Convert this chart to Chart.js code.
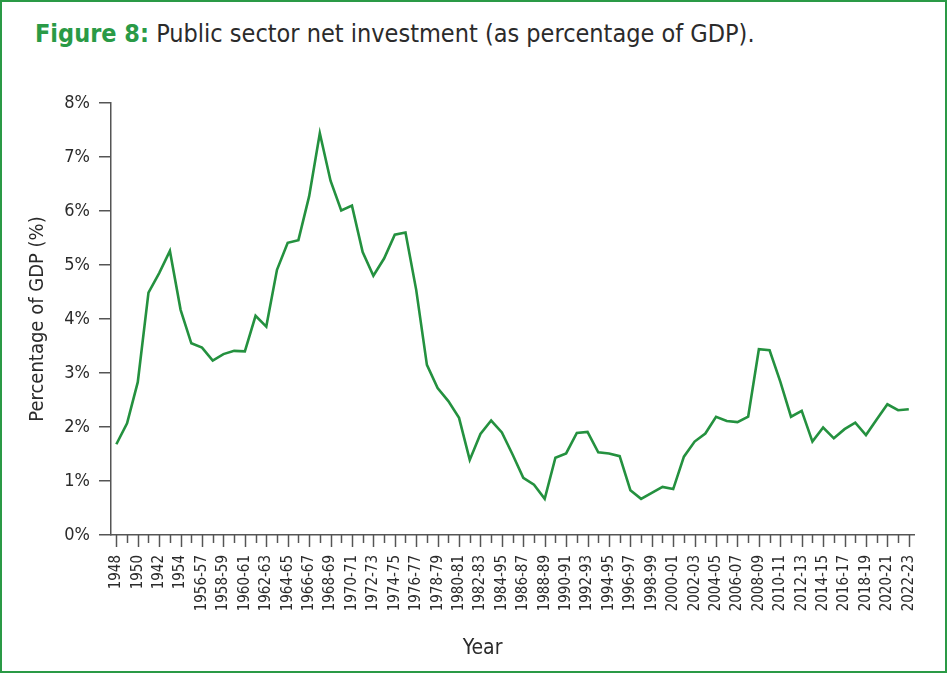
<!DOCTYPE html>
<html>
<head>
<meta charset="utf-8">
<script src="https://cdn.jsdelivr.net/npm/chart.js@4/dist/chart.umd.min.js"></script>
<style>
  html, body { margin: 0; padding: 0; background: #fff; }
  body { width: 947px; height: 673px; position: relative; overflow: hidden; }
  .frame {
    position: absolute; left: 0; top: 0; width: 943px; height: 669px;
    border: 2px solid #2a9a46;
    box-sizing: content-box;
  }
  .title {
    position: absolute; left: 35px; top: 19px;
    font-family: "DejaVu Sans Condensed", "Liberation Sans Narrow", sans-serif;
    font-size: 25px; line-height: 30px; color: #2b2b2b; white-space: nowrap;
  }
  .title b { color: #2a9a46; }
  #wrap { position: absolute; left: 0; top: 0; width: 947px; height: 673px; }
</style>
</head>
<body>
<div class="frame"></div>
<div class="title"><b>Figure 8:</b> Public sector net investment (as percentage of GDP).</div>
<div id="wrap"><canvas id="chart"></canvas></div>
<script>
// years on the axis (one point per year)
const years = [
  "1948", "1949", "1950", "1951", "1952", "1953", "1954", "1955",
  "1956-57", "1957-58", "1958-59", "1959-60", "1960-61", "1961-62", "1962-63", "1963-64",
  "1964-65", "1965-66", "1966-67", "1967-68", "1968-69", "1969-70", "1970-71", "1971-72",
  "1972-73", "1973-74", "1974-75", "1975-76", "1976-77", "1977-78", "1978-79", "1979-80",
  "1980-81", "1981-82", "1982-83", "1983-84", "1984-85", "1985-86", "1986-87", "1987-88",
  "1988-89", "1989-90", "1990-91", "1991-92", "1992-93", "1993-94", "1994-95", "1995-96",
  "1996-97", "1997-98", "1998-99", "1999-00", "2000-01", "2001-02", "2002-03", "2003-04",
  "2004-05", "2005-06", "2006-07", "2007-08", "2008-09", "2009-10", "2010-11", "2011-12",
  "2012-13", "2013-14", "2014-15", "2015-16", "2016-17", "2017-18", "2018-19", "2019-20",
  "2020-21", "2021-22", "2022-23"
];

// labels printed under every second tick (as they appear on the figure)
const tickLabels = [
  "1948", "1950", "1942", "1954", "1956-57", "1958-59", "1960-61", "1962-63",
  "1964-65", "1966-67", "1968-69", "1970-71", "1972-73", "1974-75", "1976-77", "1978-79",
  "1980-81", "1982-83", "1984-95", "1986-87", "1988-89", "1990-91", "1992-93", "1994-95",
  "1996-97", "1998-99", "2000-01", "2002-03", "2004-05", "2006-07", "2008-09", "2010-11",
  "2012-13", "2014-15", "2016-17", "2018-19", "2020-21", "2022-23"
];

// public sector net investment, % of GDP
const netInvestment = [
  1.68, 2.07, 2.83, 4.49, 4.85, 5.26, 4.17, 3.55, 3.47, 3.23,
  3.35, 3.41, 3.40, 4.06, 3.86, 4.91, 5.41, 5.46, 6.27, 7.44,
  6.56, 6.01, 6.10, 5.24, 4.80, 5.12, 5.56, 5.60, 4.54, 3.15,
  2.72, 2.48, 2.17, 1.39, 1.87, 2.12, 1.90, 1.49, 1.06, 0.93,
  0.67, 1.43, 1.51, 1.89, 1.91, 1.53, 1.51, 1.46, 0.83, 0.67,
  0.78, 0.89, 0.85, 1.45, 1.73, 1.88, 2.19, 2.11, 2.09, 2.19,
  3.44, 3.42, 2.84, 2.19, 2.30, 1.73, 1.99, 1.79, 1.96, 2.08,
  1.85, 2.14, 2.42, 2.31, 2.33
];

const yTicks = [0, 1, 2, 3, 4, 5, 6, 7, 8];

const FONT = '"DejaVu Sans Condensed", "Liberation Sans Narrow", sans-serif';
const TEXT = "#2b2b2b";
const AXIS = "#555555";
const GREEN = "#24913f";

// x tick marks: long ones under labelled years, short ones in between
const xTickMarks = {
  id: "xTickMarks",
  afterDraw(chart) {
    const x = chart.scales.x;
    const ctx = chart.ctx;
    ctx.save();
    ctx.strokeStyle = AXIS;
    ctx.lineWidth = 1.5;
    years.forEach((_, i) => {
      const px = Math.round(x.getPixelForTick(i)) + 0.5;
      const len = i % 2 === 0 ? 12 : 8;
      ctx.beginPath();
      ctx.moveTo(px, x.top);
      ctx.lineTo(px, x.top + len);
      ctx.stroke();
    });
    ctx.restore();
  }
};

Chart.defaults.font.family = FONT;
Chart.defaults.color = TEXT;

new Chart(document.getElementById("chart"), {
  type: "line",
  data: {
    labels: years,
    datasets: [{
      data: netInvestment,
      borderColor: GREEN,
      borderWidth: 2.6,
      pointRadius: 0,
      tension: 0,
      fill: false
    }]
  },
  options: {
    responsive: true,
    maintainAspectRatio: false,
    animation: false,
    layout: { padding: { left: 26, top: 103, right: 30, bottom: 10 } },
    plugins: { legend: { display: false }, tooltip: { enabled: false } },
    scales: {
      x: {
        offset: true,
        grid: { display: true, drawOnChartArea: false, drawTicks: false },
        border: { color: AXIS, width: 1.5 },
        ticks: {
          autoSkip: false,
          maxRotation: 90,
          minRotation: 90,
          padding: 20,
          font: { size: 15 },
          color: TEXT,
          callback: (v, i) => (i % 2 === 0 ? tickLabels[i / 2] : "")
        },
        // the figure's "Year" sits a little left of the axis centre
        title: { display: true, text: "Year" + "\u00a0".repeat(10), font: { size: 21 }, color: TEXT, padding: { top: 2, bottom: 2 } },
        afterFit: (s) => { s.height = 673 - 535 - 10; }
      },
      y: {
        min: 0,
        max: 8,
        afterBuildTicks: (s) => { s.ticks = yTicks.map((v) => ({ value: v })); },
        grid: { drawOnChartArea: false, tickLength: 12, color: AXIS, lineWidth: 1.5 },
        border: { color: AXIS, width: 1.5 },
        ticks: { padding: 9, font: { size: 18 }, color: TEXT, callback: (v) => v + "%" },
        title: { display: true, text: "Percentage of GDP (%)", font: { size: 20 }, color: TEXT, padding: 0 },
        afterFit: (s) => { s.width = 111 - 26; }
      }
    }
  },
  plugins: [xTickMarks]
});
</script>
</body>
</html>
